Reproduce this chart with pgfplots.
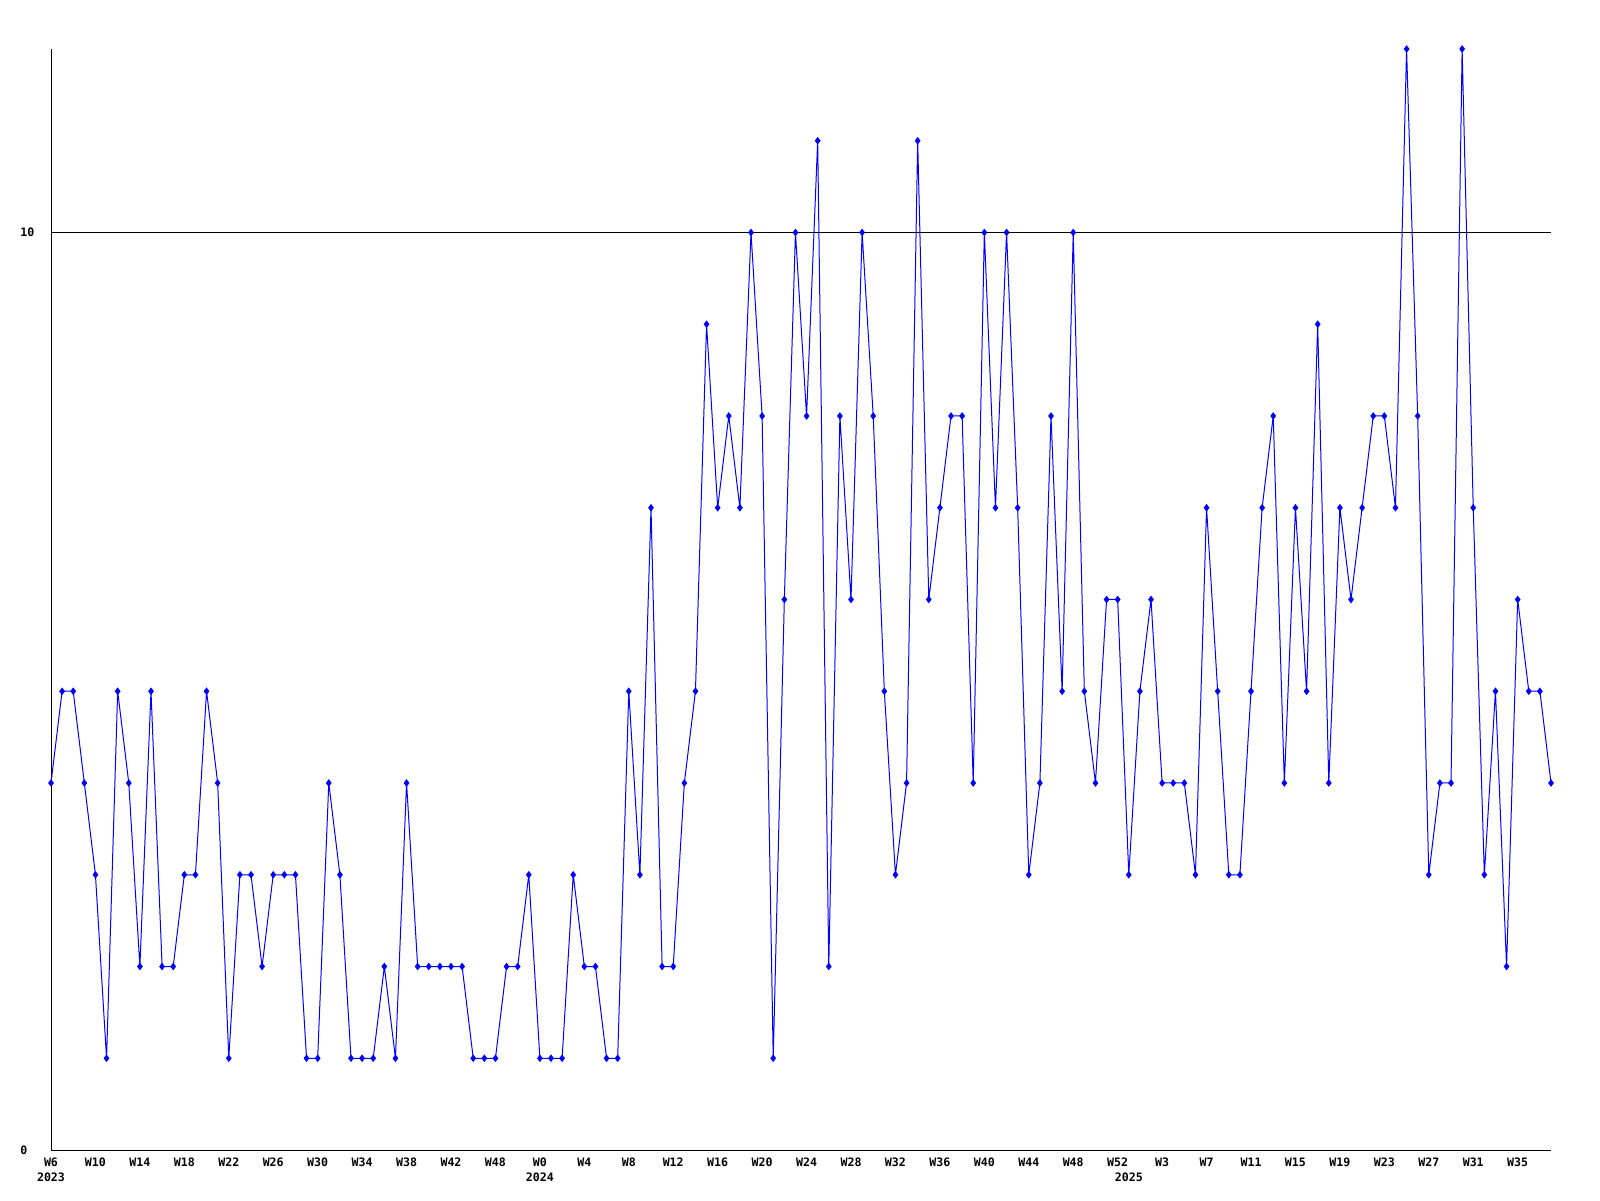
\documentclass[border=0pt]{standalone}
\usepackage{fontspec}
\setmonofont{DejaVu Sans Mono}
\usepackage{pgfplots}
\pgfplotsset{compat=1.18}
\definecolor{lineblue}{RGB}{0,0,255}
\begin{document}
\begin{tikzpicture}
\useasboundingbox (0,0) rectangle (800pt,600pt);
\begin{axis}[
  at={(25.5pt,25pt)}, anchor=south west,
  scale only axis, width=750pt, height=550.5pt,
  xmin=0, xmax=135, ymin=0, ymax=12,
  axis x line=bottom, axis y line=left,
  axis line style={-, black, line width=0.5pt},
  major tick length=0pt,
  clip=false,
  /pgf/number format/assume math mode=true,
  ticklabel style={font=\ttfamily\bfseries\fontsize{5.8}{7}\selectfont, inner sep=0pt},
  ytick={0,10}, yticklabels={0,10},
  yticklabel style={anchor=west, xshift=-15.5pt},
  ymajorgrids, grid style={black, line width=0.5pt},
  xtick={0,4,...,132},
  xticklabels={W6,W10,W14,W18,W22,W26,W30,W34,W38,W42,W48,W0,W4,W8,W12,W16,W20,W24,W28,W32,W36,W40,W44,W48,W52,W3,W7,W11,W15,W19,W23,W27,W31,W35},
  xticklabel style={anchor=north, yshift=-3.5pt, text height=4.3pt, text depth=0pt},
  extra x ticks={0,44,97},
  extra x tick labels={2023,2024,2025},
  extra x tick style={xticklabel style={yshift=-7.5pt}},
]
\addplot[color=lineblue, line width=0.5pt, mark=diamond*, mark size=1.5pt, mark options={fill=lineblue}] coordinates {
(0,4)(1,5)(2,5)(3,4)(4,3)(5,1)(6,5)(7,4)(8,2)(9,5)(10,2)(11,2)(12,3)(13,3)(14,5)(15,4)(16,1)(17,3)(18,3)(19,2)
(20,3)(21,3)(22,3)(23,1)(24,1)(25,4)(26,3)(27,1)(28,1)(29,1)(30,2)(31,1)(32,4)(33,2)(34,2)(35,2)(36,2)(37,2)(38,1)(39,1)
(40,1)(41,2)(42,2)(43,3)(44,1)(45,1)(46,1)(47,3)(48,2)(49,2)(50,1)(51,1)(52,5)(53,3)(54,7)(55,2)(56,2)(57,4)(58,5)(59,9)
(60,7)(61,8)(62,7)(63,10)(64,8)(65,1)(66,6)(67,10)(68,8)(69,11)(70,2)(71,8)(72,6)(73,10)(74,8)(75,5)(76,3)(77,4)(78,11)(79,6)
(80,7)(81,8)(82,8)(83,4)(84,10)(85,7)(86,10)(87,7)(88,3)(89,4)(90,8)(91,5)(92,10)(93,5)(94,4)(95,6)(96,6)(97,3)(98,5)(99,6)
(100,4)(101,4)(102,4)(103,3)(104,7)(105,5)(106,3)(107,3)(108,5)(109,7)(110,8)(111,4)(112,7)(113,5)(114,9)(115,4)(116,7)(117,6)(118,7)(119,8)
(120,8)(121,7)(122,12)(123,8)(124,3)(125,4)(126,4)(127,12)(128,7)(129,3)(130,5)(131,2)(132,6)(133,5)(134,5)(135,4)
};
\end{axis}
\end{tikzpicture}
\end{document}
